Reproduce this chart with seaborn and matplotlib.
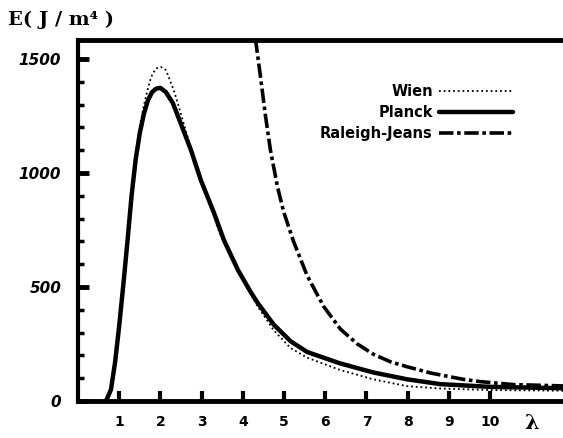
import matplotlib
matplotlib.use("Agg")
import matplotlib.pyplot as plt
import seaborn as sns
from matplotlib.ticker import MultipleLocator

# ---- data ----
planck_lam = [0.68, 0.80, 0.90, 1.00, 1.10, 1.20, 1.30, 1.40, 1.50, 1.60, 1.70, 1.80, 1.90,
              2.00, 2.13, 2.30, 2.49, 2.74, 2.98, 3.30, 3.54, 3.88, 4.19, 4.36, 4.75, 5.16,
              5.56, 6.36, 7.17, 7.99, 8.79, 10.0, 11.8]
planck_E = [0, 50, 170, 330, 510, 700, 900, 1060, 1175, 1260, 1320, 1355, 1370,
            1373, 1355, 1307, 1219, 1101, 969, 825, 706, 575, 478, 430, 335, 262,
            215, 165, 125, 95, 74, 62, 56]

wien_lam = [0.68, 0.80, 0.90, 1.00, 1.10, 1.20, 1.30, 1.40, 1.50, 1.61, 1.73, 1.80, 1.89,
            2.01, 2.13, 2.20, 2.32, 2.42, 2.54, 2.66, 2.81, 2.93, 3.05, 3.22, 3.38, 3.60,
            3.90, 4.36, 4.75, 5.16, 5.56, 6.36, 7.17, 7.99, 8.79, 10.0, 11.8]
wien_E = [0, 50, 172, 333, 515, 708, 912, 1080, 1205, 1305, 1395, 1430, 1458,
          1465, 1452, 1421, 1364, 1307, 1232, 1158, 1070, 1013, 939, 868, 763, 670,
          560, 415, 310, 232, 190, 136, 95, 65, 55, 48, 45]

rj_lam = [4.25, 4.31, 4.43, 4.55, 4.67, 4.84, 4.99, 5.23, 5.56, 5.96, 6.37, 6.78, 7.17,
          7.58, 7.99, 8.55, 9.35, 9.76, 10.56, 11.8]
rj_E = [1700, 1583, 1420, 1250, 1100, 940, 830, 700, 550, 415, 315, 250, 205,
        172, 150, 123, 95, 85, 72, 66]

x_ticks = [1, 2, 3, 4, 5, 6, 7, 8, 9, 10]
x_tick_labels = ["1", "2", "3", "4", "5", "6", "7", "8", "9", "10"]
y_ticks = [0, 500, 1000, 1500]
y_tick_labels = ["0", "500", "1000", "1500"]
series_names = ["Wien", "Planck", "Raleigh-Jeans"]

# ---- drawing ----
sns.set_theme(style="white")
plt.rcParams['font.family'] = ['DejaVu Sans']
plt.rcParams['text.color'] = 'black'
plt.rcParams['xtick.color'] = 'black'
plt.rcParams['ytick.color'] = 'black'
plt.rcParams['axes.labelcolor'] = 'black'

W, H = 563, 438
fig = plt.figure(figsize=(W / 100, H / 100), dpi=100)
fig.patch.set_facecolor("white")
ax = fig.add_axes([78 / W, 37 / H, 1 - 78 / W, 361 / H])
ax.set_facecolor("white")

sns.lineplot(x=wien_lam, y=wien_E, ax=ax, color="black", lw=1.3,
             linestyle=(0, (1, 1.6)), label=series_names[0], sort=False)
sns.lineplot(x=planck_lam, y=planck_E, ax=ax, color="black", lw=3.2,
             label=series_names[1], sort=False)
sns.lineplot(x=rj_lam, y=rj_E, ax=ax, color="black", lw=2.6,
             linestyle=(0, (4, 1, 1, 1)), label=series_names[2], sort=False)

ax.set_xlim(0, 11.77)
ax.set_ylim(0, 1583)

ax.set_xticks(x_ticks)
ax.set_xticklabels(x_tick_labels, fontsize=10, fontweight="bold", color="black")
ax.set_yticks(y_ticks)
ax.set_yticklabels(y_tick_labels, fontsize=11, fontweight="bold", fontstyle="italic",
                   color="black")
ax.yaxis.set_minor_locator(MultipleLocator(100))

ax.tick_params(axis="x", which="major", direction="in", length=7, width=3,
               color="black", pad=10, bottom=True, top=False)
ax.tick_params(axis="y", which="major", direction="in", length=8, width=3.5,
               color="black", pad=12, left=True, right=False)
ax.tick_params(axis="y", which="minor", direction="in", length=4, width=2.5,
               color="black", left=True, right=False)
ax.set_xlabel("")
ax.set_ylabel("")

for side in ["top", "bottom", "left"]:
    ax.spines[side].set_visible(True)
    ax.spines[side].set_color("black")
ax.spines["top"].set_linewidth(3.5)
ax.spines["bottom"].set_linewidth(3.5)
ax.spines["left"].set_linewidth(3)
ax.spines["right"].set_visible(False)

leg = ax.legend(loc="upper right", bbox_to_anchor=((513 - 78) / 485, (401 - 84) / 361),
                frameon=False, markerfirst=False, handlelength=5.1, handletextpad=0.4,
                labelspacing=0.4, borderpad=0, borderaxespad=0,
                prop={"weight": "bold", "size": 10.5})
for t in leg.get_texts():
    t.set_ha("right")
    t.set_color("black")

fig.text(8 / W, 1 - 20 / H, "E( J / m\u2074 )", fontfamily="DejaVu Serif",
         fontweight="bold", fontsize=14, ha="left", va="center", color="black")
fig.text(532 / W, 1 - 423 / H, "\u03bb", fontfamily="DejaVu Serif",
         fontweight="bold", fontsize=15, ha="center", va="center", color="black")

fig.savefig("out.png", dpi=100, facecolor="white")
